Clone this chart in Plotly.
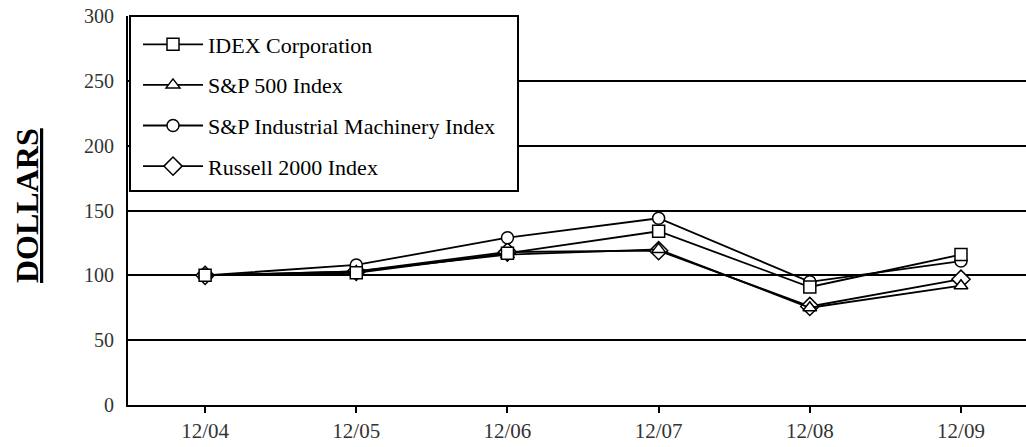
import plotly.graph_objects as go

categories = ["12/04", "12/05", "12/06", "12/07", "12/08", "12/09"]
idex = [100, 102, 117, 134, 91, 116]
sp500 = [100, 103, 116, 120, 75, 92]
machinery = [100, 108, 129, 144, 95, 111]
russell = [100, 103, 118, 119, 76, 97]

y_ticks = [0, 50, 100, 150, 200, 250, 300]

# (name, values, symbol, legend rank); drawn in reverse so IDEX is on top
series = [
    ("IDEX Corporation", idex, "square", 1),
    ("S&P 500 Index", sp500, "triangle-up", 2),
    ("S&P Industrial Machinery Index", machinery, "circle", 3),
    ("Russell 2000 Index", russell, "diamond", 4),
]
draw_order = [3, 2, 1, 0]

FONT = "Liberation Serif"

fig = go.Figure()
xs = list(range(len(categories)))
for i in draw_order:
    name, vals, sym, rank = series[i]
    fig.add_trace(go.Scatter(
        x=xs, y=vals, name=name, mode="lines+markers",
        legendgroup=f"g{i}", legendrank=rank,
        line=dict(color="black", width=1.8),
        marker=dict(symbol=sym, size=12 if sym != "diamond" else 14,
                    color="white", line=dict(color="black", width=1.5)),
    ))

PW, PH = 898, 389

fig.update_layout(
    width=1026, height=447,
    margin=dict(l=128, r=0, t=16, b=42, autoexpand=False),
    paper_bgcolor="white", plot_bgcolor="white",
    font=dict(family=FONT, color="black", size=20),
    showlegend=True,
    legend=dict(
        x=(138 - 128) / PW, y=1 - (23.5 - 16) / PH, xanchor="left", yanchor="top",
        bgcolor="rgba(0,0,0,0)", borderwidth=0,
        font=dict(family=FONT, size=22, color="black"),
        tracegroupgap=9, itemwidth=60, traceorder="grouped",
    ),
    shapes=[dict(
        type="rect", xref="paper", yref="paper",
        x0=(130 - 128) / PW, x1=(518 - 128) / PW, y0=(405 - 191) / PH, y1=1.0,
        fillcolor="white", line=dict(color="black", width=2), layer="above",
    )],
    annotations=[dict(
        text="<b><span style='text-decoration:underline'>DOLLARS</span></b>",
        xref="paper", yref="paper", x=-(128 - 27) / PW, y=(405 - 206) / PH,
        xanchor="center", yanchor="middle", textangle=-90, showarrow=False,
        font=dict(family=FONT, size=32, color="black"),
    )],
)

fig.update_xaxes(
    range=[-0.51, 5.43], tickmode="array", tickvals=xs, ticktext=categories,
    showgrid=False, zeroline=False, showline=True, linecolor="black", linewidth=2,
    ticks="outside", ticklen=6, tickwidth=2, tickcolor="black", automargin=False,
    tickfont=dict(family=FONT, size=21, color="#333"),
)
fig.update_yaxes(
    range=[0, 300], tickmode="array", tickvals=y_ticks, automargin=False,
    showgrid=True, gridcolor="black", gridwidth=1.8, zeroline=False,
    showline=True, linecolor="black", linewidth=2, ticks="",
    tickfont=dict(family=FONT, size=20, color="#333"), ticklabelstandoff=8,
)

fig.write_html("out.html", config={"displayModeBar": False},
               post_script="document.body.style.margin='0';")
